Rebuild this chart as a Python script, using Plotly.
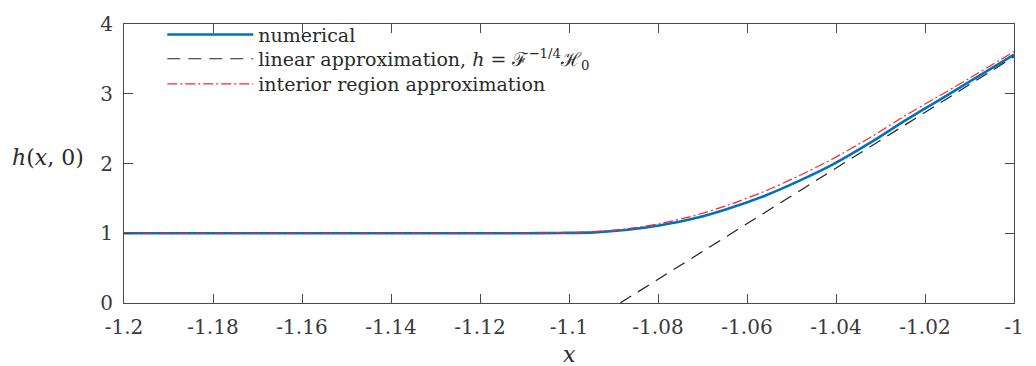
import plotly.graph_objects as go

# Sample points along x (shared by the numerical and interior-region curves)
x_pts = [-1.2, -1.15, -1.12, -1.11, -1.102, -1.0942, -1.0868, -1.0794, -1.072,
         -1.0646, -1.0557, -1.0483, -1.0409, -1.032, -1.0246, -1.0172, -1.0098, -1.0]

# Numerical solution h(x, 0)
h_numerical = [1.0, 1.0, 1.0, 1.0, 1.004, 1.012, 1.05, 1.115, 1.21,
               1.345, 1.545, 1.75, 1.98, 2.31, 2.61, 2.895, 3.18, 3.56]

# Interior region approximation
h_interior = [1.0, 1.0, 1.0, 1.0, 1.006, 1.022, 1.065, 1.14, 1.25,
              1.395, 1.61, 1.825, 2.06, 2.385, 2.68, 2.955, 3.23, 3.605]

# Linear approximation h = F^{-1/4} H_0 (straight line, endpoints)
x_linear = [-1.0885, -1.0]
h_linear = [0.0, 3.53]

# Axis ticks
x_ticks = [-1.2, -1.18, -1.16, -1.14, -1.12, -1.1, -1.08, -1.06, -1.04, -1.02, -1.0]
x_tick_labels = ["-1.2", "-1.18", "-1.16", "-1.14", "-1.12", "-1.1",
                 "-1.08", "-1.06", "-1.04", "-1.02", "-1"]
y_ticks = [0, 1, 2, 3, 4]
y_tick_labels = ["0", "1", "2", "3", "4"]

SERIF = "DejaVu Serif"
AXIS_COLOR = "#4a4a4a"
TEXT_COLOR = "#2a2a2a"

fig = go.Figure()

fig.add_trace(go.Scatter(
    x=x_pts, y=h_numerical, mode="lines", name="numerical", legend="legend",
    line=dict(color="#0072BD", width=2.6, shape="spline", smoothing=0.6),
))
fig.add_trace(go.Scatter(
    x=x_linear, y=h_linear, mode="lines", legend="legend2",
    name="linear approximation, <i>h</i> = ℱ<sup>−1/4</sup>ℋ<sub>0</sub>",
    line=dict(color="#222222", width=1.2, dash="13px,8px"),
))
fig.add_trace(go.Scatter(
    x=x_pts, y=h_interior, mode="lines", name="interior region approximation",
    legend="legend3",
    line=dict(color="#ee2a2a", width=1.2, dash="10px,3px,2px,3px",
              shape="spline", smoothing=0.6),
))

axis_common = dict(
    showline=True, linecolor=AXIS_COLOR, linewidth=1, mirror="ticks",
    ticks="inside", ticklen=9, tickwidth=1, tickcolor=AXIS_COLOR,
    showgrid=False, zeroline=False,
    tickfont=dict(family=SERIF, size=20, color="#3a3a3a"),
)


def legend_box(y):
    # One single-row legend per series, stacked by hand for tight row spacing
    return dict(
        x=0.043, y=y, xanchor="left", yanchor="middle",
        bgcolor="rgba(0,0,0,0)", borderwidth=0,
        font=dict(family=SERIF, size=19, color=TEXT_COLOR),
        itemwidth=86,
    )


fig.update_layout(
    width=1036, height=366,
    margin=dict(l=124, r=12, t=15, b=63),
    paper_bgcolor="white", plot_bgcolor="white",
    font=dict(family=SERIF),
    xaxis=dict(range=[-1.2, -1.0], tickvals=x_ticks, ticktext=x_tick_labels,
               ticklabelstandoff=6, **axis_common),
    yaxis=dict(range=[0, 4], tickvals=y_ticks, ticktext=y_tick_labels,
               ticklabelstandoff=6, **axis_common),
    showlegend=True,
    legend=legend_box(0.962),
    legend2=legend_box(0.875),
    legend3=legend_box(0.785),
    annotations=[
        dict(text="<i>h</i>(<i>x</i>, 0)", xref="paper", yref="paper",
             x=-0.0856, y=0.52, xanchor="center", yanchor="middle",
             showarrow=False, font=dict(family=SERIF, size=22, color=TEXT_COLOR)),
        dict(text="<i>x</i>", xref="paper", yref="paper",
             x=0.5, y=-0.185, xanchor="center", yanchor="middle",
             showarrow=False, font=dict(family=SERIF, size=22, color=TEXT_COLOR)),
    ],
)

fig.write_html("out.html")
